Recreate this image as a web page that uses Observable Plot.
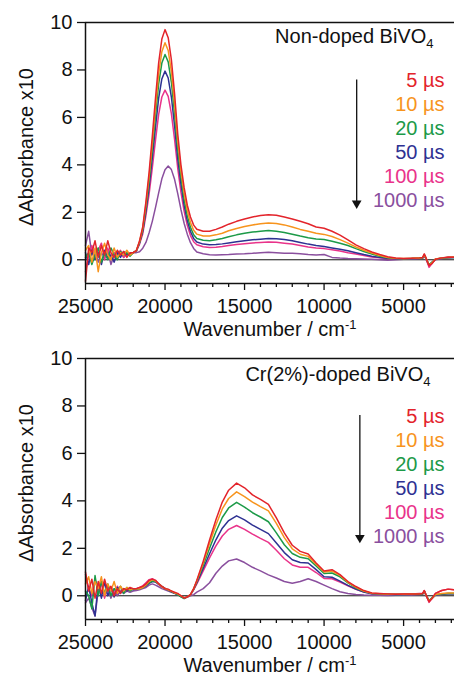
<!DOCTYPE html>
<html>
<head>
<meta charset="utf-8">
<script src="https://cdn.jsdelivr.net/npm/d3@7"></script>
<script src="https://cdn.jsdelivr.net/npm/@observablehq/plot@0.6"></script>
<style>
  html, body { margin: 0; padding: 0; background: #fff; }
  svg { display: block; }
</style>
</head>
<body>
<script>
// ---------- data ----------
const wn = [25000,24800,24600,24400,24200,24000,23800,23600,23400,23200,23000,22800,22600,22400,22200,22000,
  21800,21600,21400,21200,21000,20800,20600,20400,20200,20000,19800,19600,19400,19200,19000,18800,18600,18400,18200,18000,
  17600,17200,16800,16400,16000,15500,15000,14500,14000,13500,13000,12500,12000,11500,11000,10500,10000,9500,9000,8500,8000,7500,7000,6500,6000,5500,
  5000,4500,4000,3800,3700,3600,3400,3200,3000,2600,2200,1800];

const series = ["5 µs", "10 µs", "20 µs", "50 µs", "100 µs", "1000 µs"];
const colors = ["#e3242b", "#f7941d", "#1c9a48", "#2e3192", "#e9338a", "#8a4f9e"];

// Non-doped BiVO4
const nd5 = [-0.9,0.5,0.3,0.8,0.1,0.6,0.2,0.8,0.3,0.1,0.4,0.2,0.35,0.1,0.3,0.3,
  0.39,0.8,1.4,2.45,3.7,5.2,6.8,8.3,9.3,9.7,9.36,8.43,7.0,5.3,4.0,3.05,2.3,1.8,1.46,1.29,
  1.2,1.2,1.28,1.38,1.5,1.62,1.72,1.8,1.87,1.9,1.88,1.8,1.72,1.62,1.52,1.38,1.33,1.2,1.04,0.84,0.63,0.47,0.33,0.22,0.13,0.07,
  0.05,0.06,0.08,0.1,0.25,0.1,-0.25,-0.15,0.02,0.08,0.12,0.1];
const nd10 = [0.4,0.6,-0.1,0.5,-0.5,0.3,0.7,0.2,0.0,0.5,0.1,0.3,0.2,0.4,0.2,0.3,
  0.39,0.77,1.34,2.33,3.5,4.91,6.42,7.83,8.77,9.15,8.82,7.93,6.55,5.0,3.75,2.8,2.08,1.57,1.24,1.08,
  1.0,1.0,1.05,1.12,1.22,1.32,1.4,1.47,1.52,1.55,1.53,1.47,1.38,1.28,1.2,1.12,1.07,0.98,0.85,0.7,0.54,0.4,0.28,0.18,0.1,0.06,
  0.05,0.06,0.07,0.1,0.22,0.08,-0.22,-0.12,0.03,0.08,0.1,0.12];
const nd20 = [0.1,0.3,-0.2,0.2,0.5,-0.1,0.3,0.0,0.5,0.2,0.0,0.35,0.2,0.3,0.15,0.3,
  0.38,0.74,1.28,2.21,3.32,4.65,6.07,7.41,8.29,8.65,8.34,7.48,6.15,4.65,3.5,2.55,1.85,1.37,1.05,0.9,
  0.82,0.8,0.84,0.9,0.97,1.05,1.12,1.17,1.2,1.23,1.2,1.15,1.08,1.0,0.93,0.88,0.85,0.78,0.7,0.6,0.47,0.35,0.24,0.15,0.09,0.05,
  0.04,0.05,0.07,0.09,0.2,0.07,-0.2,-0.1,0.02,0.07,0.1,0.1];
const nd50 = [0.3,-0.2,0.4,0.0,0.3,-0.2,0.4,0.1,0.2,-0.1,0.3,0.1,0.35,0.2,0.25,0.3,
  0.38,0.71,1.2,2.05,3.07,4.29,5.59,6.81,7.62,7.95,7.66,6.86,5.65,4.25,3.2,2.3,1.65,1.19,0.9,0.75,
  0.66,0.63,0.64,0.67,0.71,0.76,0.8,0.84,0.87,0.9,0.89,0.85,0.8,0.73,0.66,0.6,0.56,0.5,0.44,0.38,0.3,0.22,0.15,0.1,0.06,0.04,
  0.04,0.05,0.06,0.08,0.2,0.06,-0.22,-0.1,0.02,0.06,0.08,0.1];
const nd100 = [-0.5,0.2,0.6,0.1,0.4,0.7,0.0,0.5,0.1,0.3,0.2,0.4,0.1,0.3,0.25,0.3,
  0.37,0.66,1.1,1.87,2.78,3.87,5.03,6.13,6.86,7.15,6.89,6.16,5.07,3.85,2.85,2.05,1.45,1.02,0.76,0.63,
  0.55,0.52,0.53,0.56,0.6,0.64,0.68,0.71,0.73,0.75,0.74,0.7,0.66,0.6,0.54,0.5,0.47,0.42,0.37,0.3,0.24,0.18,0.12,0.08,0.05,0.04,
  0.04,0.05,0.06,0.08,0.22,0.05,-0.32,-0.15,0.02,0.06,0.1,0.12];
const nd1000 = [0.6,1.2,0.2,0.4,-0.1,0.3,0.1,0.4,-0.2,0.2,0.1,0.3,0.1,0.25,0.2,0.3,
  0.3,0.34,0.49,0.73,1.14,1.62,2.2,2.82,3.41,3.79,3.95,3.8,3.39,2.79,2.12,1.54,1.08,0.72,0.48,0.33,
  0.25,0.21,0.2,0.21,0.22,0.24,0.25,0.27,0.3,0.32,0.3,0.28,0.27,0.25,0.22,0.2,0.22,0.1,0.07,0.05,0.04,0.03,0.02,0.0,-0.02,0.0,
  0.02,0.03,0.05,0.06,0.18,0.04,-0.25,-0.1,0.0,0.05,0.08,0.1];

// Cr(2%)-doped BiVO4
const cr5 = [1.0,0.2,0.7,-0.1,0.6,0.1,0.7,0.2,0.4,0.0,0.3,0.1,0.3,0.25,0.35,0.3,
  0.3,0.35,0.4,0.5,0.65,0.7,0.65,0.5,0.4,0.3,0.28,0.2,0.15,0.1,0.0,-0.1,-0.05,0.05,0.3,0.65,
  1.45,2.35,3.2,3.95,4.45,4.75,4.55,4.25,4.06,3.85,3.28,2.65,2.13,1.87,1.76,1.38,1.04,1.1,0.89,0.6,0.39,0.22,0.12,0.1,0.08,0.06,
  0.07,0.08,0.08,0.1,0.22,0.05,-0.25,-0.1,0.1,0.22,0.28,0.25];
const cr10 = [0.5,0.8,0.1,0.6,0.3,0.8,0.0,0.5,0.2,0.6,0.1,0.4,0.2,0.35,0.25,0.3,
  0.3,0.3,0.35,0.45,0.6,0.68,0.62,0.5,0.38,0.3,0.25,0.2,0.12,0.08,0.0,-0.08,-0.05,0.05,0.3,0.62,
  1.37,2.2,2.98,3.66,4.1,4.38,4.18,3.95,3.76,3.58,3.05,2.45,1.98,1.75,1.66,1.33,1.0,1.04,0.86,0.57,0.36,0.2,0.11,0.09,0.07,0.06,
  0.06,0.07,0.08,0.1,0.2,0.05,-0.22,-0.1,0.05,0.1,0.12,0.12];
const cr20 = [0.2,0.0,-0.55,0.85,0.0,0.6,0.1,0.5,0.0,0.3,0.2,0.4,0.1,0.35,0.2,0.3,
  0.28,0.3,0.35,0.45,0.55,0.62,0.6,0.5,0.4,0.3,0.25,0.18,0.12,0.05,-0.05,-0.12,-0.05,0.05,0.28,0.6,
  1.28,2.0,2.7,3.3,3.7,3.94,3.74,3.5,3.32,3.12,2.65,2.15,1.78,1.62,1.56,1.26,0.94,0.96,0.8,0.54,0.33,0.19,0.1,0.08,0.06,0.05,
  0.05,0.06,0.07,0.09,0.2,0.04,-0.2,-0.08,0.04,0.08,0.1,0.1];
const cr50 = [-0.2,0.4,-0.3,-0.85,0.5,-0.1,0.6,0.0,0.3,-0.05,0.35,0.1,0.3,0.2,0.3,0.25,
  0.3,0.32,0.35,0.42,0.52,0.6,0.58,0.48,0.38,0.3,0.24,0.18,0.1,0.05,-0.03,-0.1,-0.05,0.04,0.28,0.55,
  1.15,1.77,2.36,2.85,3.17,3.37,3.2,2.98,2.8,2.62,2.22,1.82,1.52,1.4,1.38,1.1,0.8,0.78,0.62,0.44,0.28,0.16,0.08,0.07,0.06,0.05,
  0.05,0.06,0.07,0.08,0.2,0.04,-0.2,-0.1,0.03,0.07,0.1,0.1];
const cr100 = [0.9,0.3,0.0,0.7,0.2,0.5,-0.1,0.4,0.3,0.1,0.4,0.2,0.3,0.2,0.3,0.3,
  0.3,0.35,0.42,0.55,0.68,0.72,0.65,0.52,0.4,0.32,0.25,0.18,0.12,0.06,-0.02,-0.1,-0.05,0.04,0.25,0.5,
  1.05,1.6,2.1,2.52,2.8,2.96,2.8,2.6,2.42,2.25,1.92,1.56,1.3,1.2,1.2,0.98,0.73,0.72,0.58,0.42,0.27,0.16,0.09,0.08,0.08,0.07,
  0.08,0.08,0.1,0.1,0.22,0.05,-0.28,-0.1,0.1,0.22,0.28,0.25];
const cr1000 = [-0.3,-0.1,-0.5,-0.85,0.2,0.6,0.0,0.3,-0.1,0.3,0.0,0.2,0.1,0.2,0.15,0.2,
  0.22,0.25,0.3,0.35,0.45,0.5,0.45,0.38,0.3,0.25,0.2,0.15,0.1,0.05,0.0,-0.08,-0.05,0.0,0.05,0.15,
  0.3,0.55,0.95,1.25,1.47,1.55,1.4,1.2,1.05,0.88,0.75,0.6,0.53,0.6,0.72,0.6,0.45,0.3,0.17,0.1,0.05,0.03,0.02,0.02,0.01,0.02,
  0.02,0.03,0.05,0.06,0.18,0.03,-0.22,-0.1,0.02,0.05,0.08,0.08];

const majorTicks = [25000, 20000, 15000, 10000, 5000];
const minorTicks = [24000,23000,22000,21000,19000,18000,17000,16000,14000,13000,12000,11000,9000,8000,7000,6000,4000,3000,2000];
const yTicks = [0, 2, 4, 6, 8, 10];

const panels = [
  {title: "Non-doped BiVO", sub: "4", values: [nd5, nd10, nd20, nd50, nd100, nd1000],
   arrow: {x: 7950, from: 7.58, to: 2.25}, height: 340, marginTop: 22, titleDx: -21, titleDy: 14.5},
  {title: "Cr(2%)-doped BiVO", sub: "4", values: [cr5, cr10, cr20, cr50, cr100, cr1000],
   arrow: {x: 7750, from: 7.6, to: 2.32}, height: 336, marginTop: 18, titleDx: -24, titleDy: 16.5}
];

const FONT = "'Liberation Sans', Arial, Helvetica, sans-serif";

function buildRows(values) {
  const rows = [];
  // draw longest decay first so 5 µs is on top
  for (let s = series.length - 1; s >= 0; s--) {
    wn.forEach((w, i) => rows.push({w, v: values[s][i], series: series[s]}));
  }
  return rows;
}

for (const p of panels) {
  const rows = buildRows(p.values);
  const legendMarks = series.map((s, i) => Plot.text([s], {
    frameAnchor: "top-right", textAnchor: "end", lineAnchor: "middle", dx: -10, dy: 57.7 + i * 24,
    fill: colors[i], fontSize: 20
  }));
  const chart = Plot.plot({
    width: 454,
    height: p.height,
    marginTop: p.marginTop,
    marginBottom: 57,
    marginLeft: 85,
    marginRight: 0,
    style: {fontFamily: FONT, fontSize: "20px", color: "#111", background: "#fff"},
    x: {domain: [25000, 1800]},
    y: {domain: [-1, 10]},
    color: {domain: series, range: colors},
    marks: [
      Plot.ruleY([0], {stroke: "#111", strokeWidth: 1}),
      Plot.line(rows, {x: "w", y: "v", z: "series", stroke: "series", strokeWidth: 1.5, strokeLinejoin: "round"}),
      Plot.ruleY([10], {stroke: "#111", strokeWidth: 1.5}),
      Plot.ruleY([-1], {stroke: "#111", strokeWidth: 1.5}),
      Plot.ruleX([25000], {stroke: "#111", strokeWidth: 1.5}),
      Plot.axisX({ticks: majorTicks, tickSize: 7, tickPadding: 8, tickFormat: d => String(d), label: null, fontSize: 20, strokeWidth: 1.3}),
      Plot.axisX({ticks: minorTicks, tickSize: 4, tickFormat: () => "", label: null, strokeWidth: 1.3}),
      Plot.axisY({ticks: yTicks, tickSize: 8, tickPadding: 5, label: null, fontSize: 20, strokeWidth: 1.3}),
      Plot.text(["ΔAbsorbance x10"], {frameAnchor: "left", textAnchor: "middle", lineAnchor: "middle", rotate: -90, dx: -59, dy: -6, fontSize: 20}),
      Plot.text(["Wavenumber / cm"], {frameAnchor: "bottom", textAnchor: "middle", lineAnchor: "middle", dx: 0, dy: 46, fontSize: 20}),
      Plot.text([p.title], {frameAnchor: "top-right", textAnchor: "end", lineAnchor: "middle", dx: p.titleDx, dy: p.titleDy, fontSize: 20}),
      ...legendMarks,
      Plot.ruleX([p.arrow], {x: "x", y1: "from", y2: "to", stroke: "#111", strokeWidth: 1.3}),
      Plot.dot([p.arrow], {x: "x", y: "to", symbol: "triangle", r: 3.6, rotate: 180, fill: "#111", stroke: "none", dy: -3})
    ]
  });
  const svg = d3.select(chart);
  svg.selectAll("text").filter(function() { return this.textContent === "Wavenumber / cm"; })
    .each(function() {
      d3.select(this).append("tspan").attr("dy", "-0.55em").attr("font-size", "13px").text("-1");
    });
  svg.selectAll("text").filter(function() { return this.textContent === p.title; })
    .each(function() {
      d3.select(this).append("tspan").attr("dy", "0.35em").attr("font-size", "13px").text(p.sub);
    });
  document.body.appendChild(chart);
}
</script>
</body>
</html>
